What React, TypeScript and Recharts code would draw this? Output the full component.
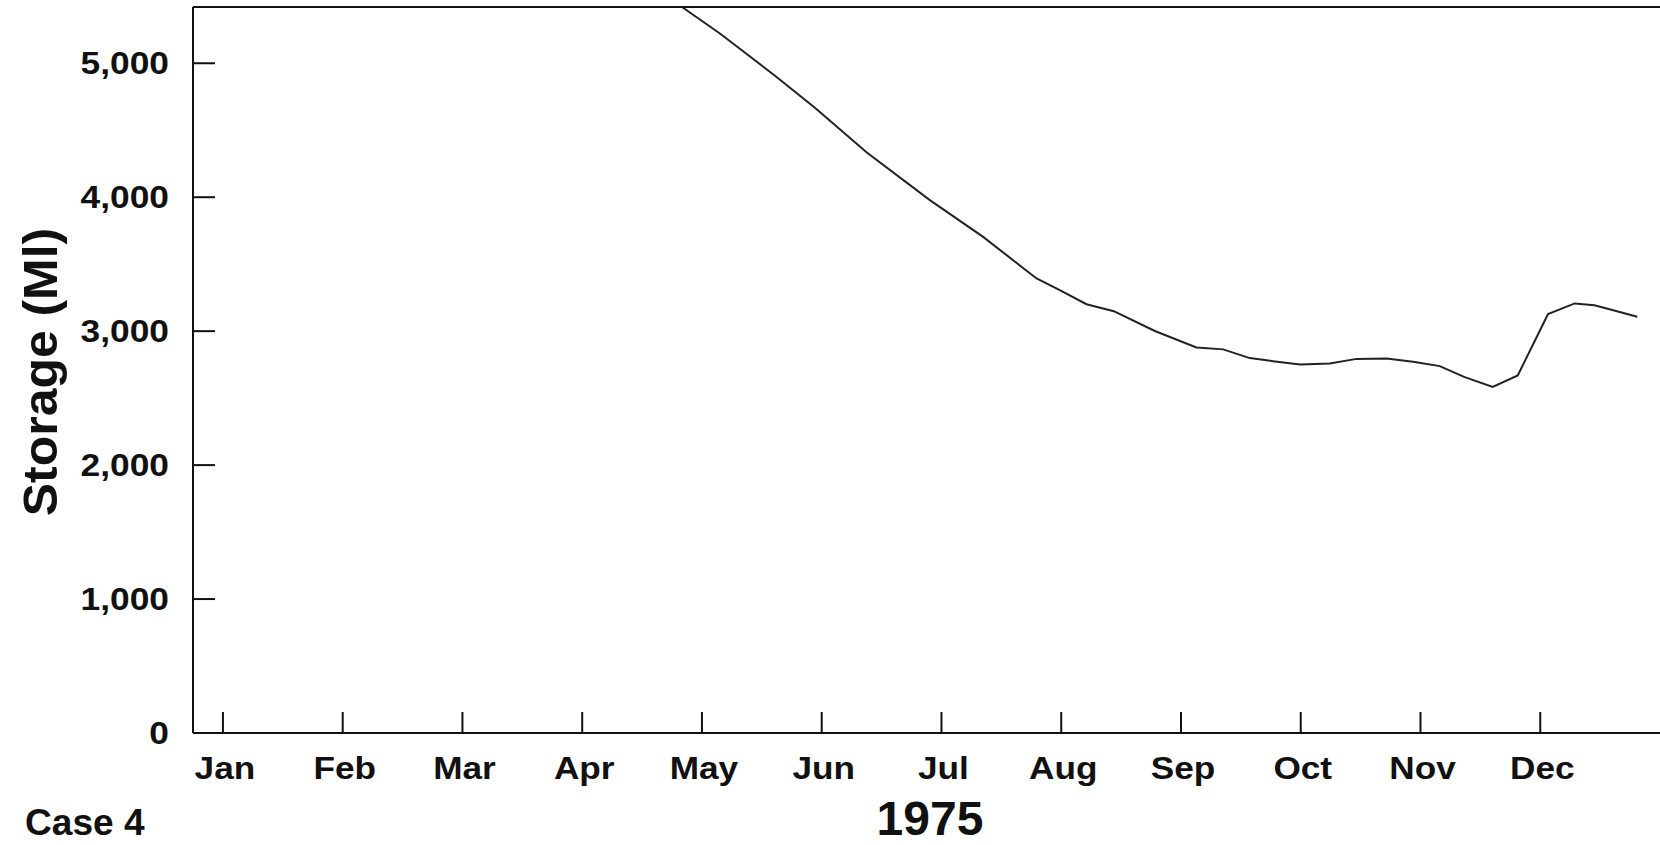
import React from "react";
import { LineChart, Line, XAxis, YAxis, ReferenceLine } from "recharts";

// month index (0 = Jan tick, 11 = Dec tick), fractional positions along the year
const monthPos: number[] = [
  3.836, 4.15, 4.623, 4.943, 5.374, 5.903, 6.348, 6.794, 6.988, 7.211,
  7.439, 7.782, 8.129, 8.352, 8.575, 8.769, 8.994, 9.243, 9.466, 9.716,
  9.938, 10.161, 10.364, 10.603, 10.812, 11.065, 11.288, 11.452, 11.586, 11.81,
];
// storage (Ml)
const storage: number[] = [
  5418, 5222, 4898, 4668, 4336, 3978, 3704, 3393, 3306, 3201,
  3149, 3001, 2878, 2864, 2799, 2776, 2751, 2759, 2793, 2796,
  2771, 2739, 2659, 2584, 2669, 3127, 3207, 3194, 3162, 3107,
];
const monthLabels: string[] = [
  "Jan", "Feb", "Mar", "Apr", "May", "Jun", "Jul", "Aug", "Sep", "Oct", "Nov", "Dec",
];
const monthTicks: number[] = [0, 1, 2, 3, 4, 5, 6, 7, 8, 9, 10, 11];
const yTicks: number[] = [0, 1000, 2000, 3000, 4000, 5000];
const yMax = 5420;

const data = monthPos.map((t, i) => ({ t, v: storage[i] }));

const FONT = "'Liberation Sans', Arial, Helvetica, sans-serif";
const INK = "#111";

const XTick = (props: any) => {
  const { x, y, payload } = props;
  return (
    <g>
      <line x1={x} x2={x} y1={y} y2={y - 21} stroke={INK} strokeWidth={2} />
      <text
        transform={`translate(${x + 2},${y + 46}) scale(1.1,1)`}
        textAnchor="middle"
        fontFamily={FONT}
        fontWeight="bold"
        fontSize={32}
        fill={INK}
      >
        {monthLabels[payload.value]}
      </text>
    </g>
  );
};

const YTick = (props: any) => {
  const { x, y, payload } = props;
  const label = payload.value.toLocaleString("en-US");
  return (
    <g>
      {payload.value !== 0 && (
        <line x1={x} x2={x + 22} y1={y} y2={y} stroke={INK} strokeWidth={2} />
      )}
      <text
        transform={`translate(${x - 24},${y + 11}) scale(1.14,1)`}
        textAnchor="end"
        fontFamily={FONT}
        fontWeight="bold"
        fontSize={31}
        fill={INK}
      >
        {label}
      </text>
    </g>
  );
};

export default function App() {
  return (
    <div
      style={{
        position: "absolute",
        left: 0,
        top: 0,
        width: 1660,
        height: 845,
        background: "#fff",
      }}
    >
      <LineChart
        width={1660}
        height={845}
        data={data}
        margin={{ top: 7, right: 0, bottom: 0, left: 0 }}
      >
        <XAxis
          type="number"
          dataKey="t"
          domain={[-0.25, 12]}
          ticks={monthTicks}
          allowDataOverflow
          height={112}
          tickSize={0}
          tickMargin={0}
          tickLine={false}
          axisLine={{ stroke: INK, strokeWidth: 2 }}
          tick={<XTick />}
          interval={0}
        />
        <YAxis
          type="number"
          domain={[0, yMax]}
          ticks={yTicks}
          allowDataOverflow
          width={193}
          tickSize={0}
          tickMargin={0}
          tickLine={false}
          axisLine={{ stroke: INK, strokeWidth: 2 }}
          tick={<YTick />}
          interval={0}
        />
        <ReferenceLine y={yMax} stroke={INK} strokeWidth={2} />
        <Line
          type="linear"
          dataKey="v"
          stroke="#222"
          strokeWidth={2}
          dot={false}
          isAnimationActive={false}
        />
      </LineChart>
      <svg
        width={1660}
        height={845}
        style={{ position: "absolute", left: 0, top: 0, pointerEvents: "none" }}
      >
        <text
          transform="translate(57,372) rotate(-90) scale(1.04,1)"
          textAnchor="middle"
          fontFamily={FONT}
          fontWeight="bold"
          fontSize={48}
          fill={INK}
        >
          Storage (Ml)
        </text>
        <text
          x={930}
          y={835}
          textAnchor="middle"
          fontFamily={FONT}
          fontWeight="bold"
          fontSize={48}
          fill={INK}
        >
          1975
        </text>
        <text
          transform="translate(25,835) scale(1.03,1)"
          fontFamily={FONT}
          fontWeight="bold"
          fontSize={36}
          fill={INK}
        >
          Case 4
        </text>
      </svg>
    </div>
  );
}
